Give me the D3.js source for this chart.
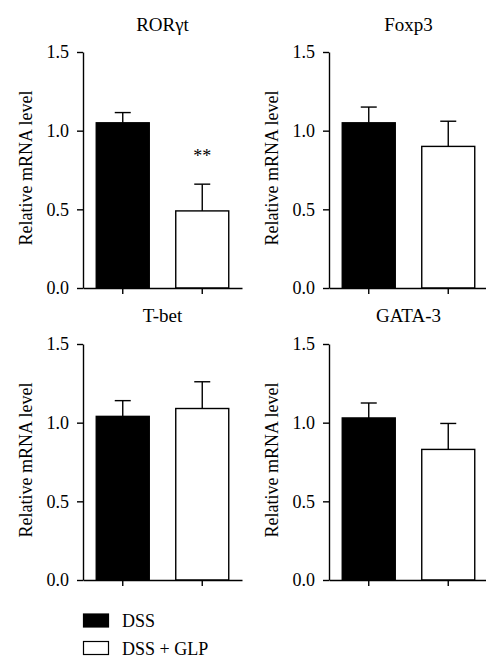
<!DOCTYPE html>
<html>
<head>
<meta charset="utf-8">
<script src="https://cdn.jsdelivr.net/npm/d3@7"></script>
<style>
  body { margin: 0; background: #fff; }
  svg { display: block; }
  text { font-family: "Liberation Serif", "DejaVu Serif", serif; fill: #000; }
</style>
</head>
<body>
<script>
// values
var genes = ['RORγt', 'Foxp3', 'T-bet', 'GATA-3'];
var groups = ['DSS', 'DSS + GLP'];
var dssMean = [1.05, 1.05, 1.04, 1.03];
var dssErr = [0.065, 0.10, 0.10, 0.095];
var glpMean = [0.49, 0.90, 1.09, 0.83];
var glpErr = [0.17, 0.16, 0.17, 0.165];
var sigMarks = ['**', '', '', ''];
var yTicks = [0, 0.5, 1.0, 1.5];
var fills = ['#000', '#fff'];

var w = 486, h = 659;
var plotW = 159, plotH = 236;
// top-left corner of each panel's plot area
var origins = [[83, 52], [329, 52], [83, 344], [329, 344]];

var svg = d3.select('body').append('svg')
    .attr('width', w)
    .attr('height', h);

var x = d3.scaleBand()
    .domain(groups)
    .range([0, plotW])
    .paddingInner(1 / 3)
    .paddingOuter(1 / 6);

var y = d3.scaleLinear()
    .domain([0, 1.5])
    .range([plotH, 0]);

genes.forEach(function (gene, i) {
    var g = svg.append('g')
        .attr('transform', 'translate(' + origins[i][0] + ',' + origins[i][1] + ')');

    var data = [
        { group: groups[0], mean: dssMean[i], err: dssErr[i] },
        { group: groups[1], mean: glpMean[i], err: glpErr[i] }
    ];

    // error bars (upper only), drawn under the bars
    var cap = 8;
    data.forEach(function (d) {
        var cx = x(d.group) + x.bandwidth() / 2;
        g.append('line')
            .attr('x1', cx).attr('x2', cx)
            .attr('y1', y(d.mean)).attr('y2', y(d.mean + d.err))
            .attr('stroke', '#000').attr('stroke-width', 1.4);
        g.append('line')
            .attr('x1', cx - cap).attr('x2', cx + cap)
            .attr('y1', y(d.mean + d.err)).attr('y2', y(d.mean + d.err))
            .attr('stroke', '#000').attr('stroke-width', 1.4);
    });

    g.selectAll('.bar')
        .data(data)
        .enter()
        .append('rect')
        .attr('class', 'bar')
        .attr('x', function (d) { return x(d.group); })
        .attr('y', function (d) { return y(d.mean); })
        .attr('width', x.bandwidth())
        .attr('height', function (d) { return y(0) - y(d.mean); })
        .attr('fill', function (d, j) { return fills[j]; })
        .attr('stroke', '#000')
        .attr('stroke-width', 1.4);

    var yAxis = g.append('g')
        .call(d3.axisLeft(y).tickValues(yTicks).tickFormat(d3.format('.1f')).tickSize(6).tickSizeOuter(0).tickPadding(8));

    var xAxis = g.append('g')
        .attr('transform', 'translate(0,' + plotH + ')')
        .call(d3.axisBottom(x).tickSize(6).tickSizeOuter(0).tickFormat(''));

    [yAxis, xAxis].forEach(function (a) {
        a.select('.domain').attr('stroke', '#000').attr('stroke-width', 1.4);
        a.selectAll('.tick line').attr('stroke', '#000').attr('stroke-width', 1.4);
        a.selectAll('.tick text')
            .style('font-family', '"Liberation Serif", serif')
            .style('font-size', '18px')
            .attr('fill', '#000');
    });

    g.append('text')
        .attr('x', plotW / 2)
        .attr('y', i < 2 ? -21 : -22)
        .attr('text-anchor', 'middle')
        .style('font-size', '19px')
        .text(gene);

    g.append('text')
        .attr('transform', 'translate(' + (-51) + ',' + (plotH / 2 - 2) + ') rotate(-90)')
        .attr('text-anchor', 'middle')
        .style('font-size', '18px')
        .text('Relative mRNA level');

    if (sigMarks[i]) {
        g.append('text')
            .attr('x', x(groups[1]) + x.bandwidth() / 2)
            .attr('y', y(glpMean[i] + glpErr[i]) - 22)
            .attr('text-anchor', 'middle')
            .style('font-size', '18px')
            .text(sigMarks[i]);
    }
});

// legend
var legend = svg.append('g').attr('transform', 'translate(83,614)');
groups.forEach(function (name, j) {
    legend.append('rect')
        .attr('x', 0.5)
        .attr('y', j * 27.5)
        .attr('width', 25)
        .attr('height', 13)
        .attr('fill', fills[j])
        .attr('stroke', '#000')
        .attr('stroke-width', 1.2);
    legend.append('text')
        .attr('x', 39)
        .attr('y', j * 27.5 + 13)
        .style('font-size', '18px')
        .text(name);
});
</script>
</body>
</html>
